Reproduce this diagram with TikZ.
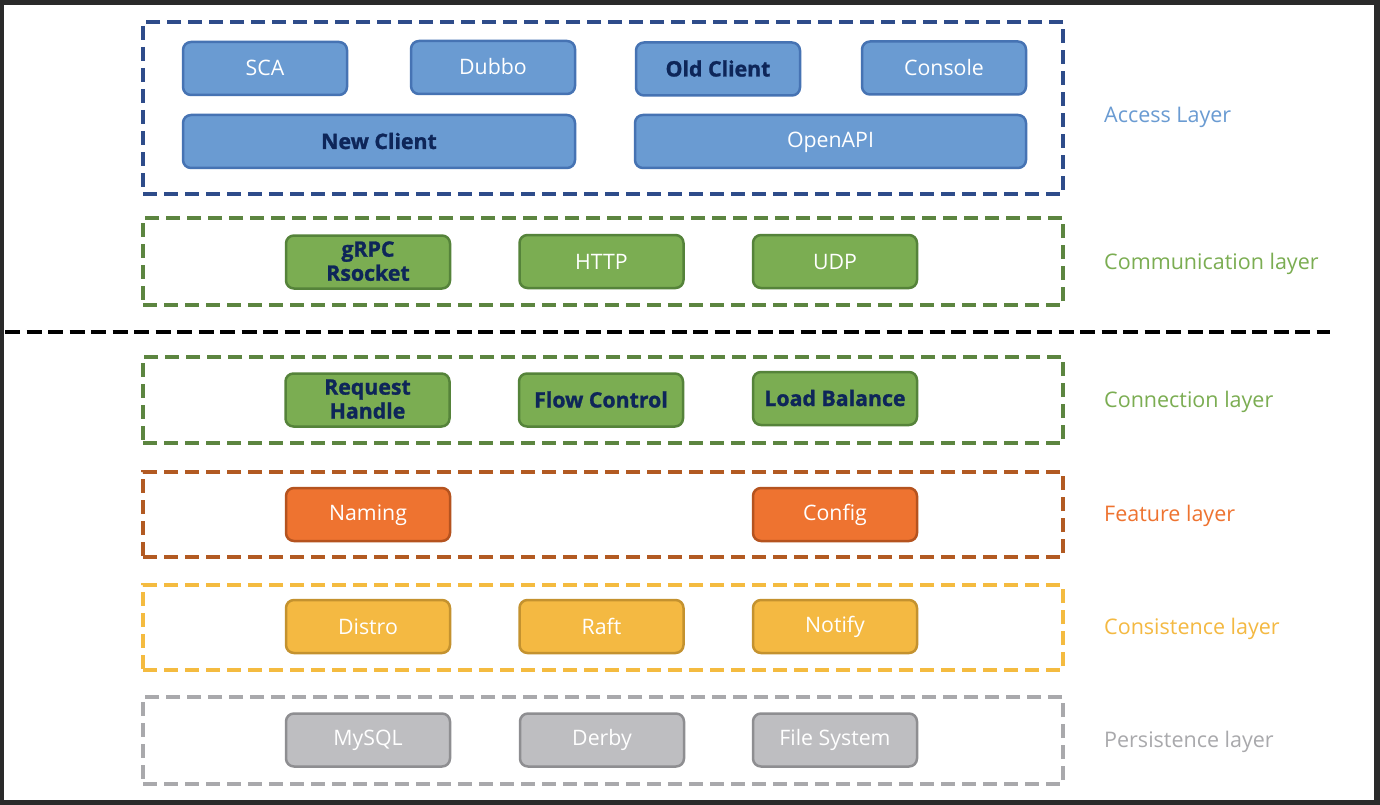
\documentclass[tikz,border=0pt]{standalone}
\usepackage{fontspec}
\setmainfont{Open Sans}
\newfontfamily\heavyfont{Open Sans}[FakeBold=1.2]
\newcommand\mytopst{\rule{0pt}{17pt}}
\newcommand\mybotst{\rule[-2pt]{0pt}{2pt}}
\begin{document}
\begin{tikzpicture}[x=1pt,y=-1pt,
  bx/.style={rounded corners=8pt, line width=2.5pt, minimum width=164pt, minimum height=53pt, inner sep=0pt, align=center, font=\fontsize{21.3}{24}\selectfont, execute at begin node=\mytopst, execute at end node=\mybotst},
  bold/.style={text=navytxt, font=\fontsize{21.3}{24}\selectfont\heavyfont\bfseries},
  bluebx/.style={bx, fill=bluefill, draw=blueedge, text=white},
  greenbx/.style={bx, fill=greenfill, draw=greenedge, text=white},
  orangebx/.style={bx, fill=orangefill, draw=orangeedge, text=white},
  yellowbx/.style={bx, fill=yellowfill, draw=yellowedge, text=white},
  graybx/.style={bx, fill=grayfill, draw=grayedge, text=white},
  layer/.style={line width=3.5pt, dash pattern=on 14pt off 7pt, minimum width=920pt, inner sep=0pt},
  lbl/.style={anchor=west, inner sep=0pt, font=\fontsize{21.5}{24}\selectfont, execute at begin node=\mytopst, execute at end node=\mybotst}
]
\definecolor{frame}{HTML}{2A2A2A}
\definecolor{bluefill}{HTML}{6A9BD2}
\definecolor{blueedge}{HTML}{4673B3}
\definecolor{blueouter}{HTML}{2E4C8A}
\definecolor{bluelbl}{HTML}{6A9BD2}
\definecolor{navytxt}{HTML}{0E2659}
\definecolor{greenfill}{HTML}{7BAD52}
\definecolor{greenedge}{HTML}{55833A}
\definecolor{greenouter}{HTML}{5C8540}
\definecolor{greenlbl}{HTML}{7BAD52}
\definecolor{orangefill}{HTML}{EE7330}
\definecolor{orangeedge}{HTML}{B5531F}
\definecolor{orangeouter}{HTML}{B25A22}
\definecolor{orangelbl}{HTML}{EE7330}
\definecolor{yellowfill}{HTML}{F4B942}
\definecolor{yellowedge}{HTML}{C4922F}
\definecolor{yellowouter}{HTML}{F4BB40}
\definecolor{yellowlbl}{HTML}{F4B942}
\definecolor{grayfill}{HTML}{BEBEC1}
\definecolor{grayedge}{HTML}{8E8E91}
\definecolor{grayouter}{HTML}{A9A9AC}
\definecolor{graylbl}{HTML}{A9A9AC}

% frame and background
\fill[frame] (0,0) rectangle (1380,805);
\fill[white] (4,5) rectangle (1374,800);
\useasboundingbox (0,0) rectangle (1380,805);

% layer containers
\node[layer, draw=blueouter, minimum height=172pt] (accessL) at (603,108) {};
\node[layer, draw=greenouter, minimum height=87pt] (commL) at (603,261.5) {};
\node[layer, draw=greenouter, minimum height=86pt] (connL) at (603,400) {};
\node[layer, draw=orangeouter, minimum height=85pt] (featL) at (603,514.5) {};
\node[layer, draw=yellowouter, minimum height=85pt] (consL) at (603,627.5) {};
\node[layer, draw=grayouter, minimum height=87pt] (persL) at (603,740.5) {};

% separator
\coordinate (sepA) at (5,332);
\coordinate (sepB) at (1330,332);
\draw[black, line width=4pt, dash pattern=on 15pt off 6.5pt] (sepA) -- (sepB);

% access layer
\node[bluebx] (sca) at (265,68.5) {SCA};
\node[bluebx] (dubbo) at (493,67.5) {Dubbo};
\node[bluebx, bold] (oldc) at (718,69) {Old Client};
\node[bluebx] (console) at (944,68) {Console};
\node[bluebx, bold, minimum width=392pt] (newc) at (379,141.5) {New Client};
\node[bluebx, minimum width=391pt] (openapi) at (830.5,141.5) {OpenAPI};

% communication layer
\node[greenbx, bold] (grpc) at (368,262) {gRPC\\Rsocket};
\node[greenbx] (http) at (601.5,261.5) {HTTP};
\node[greenbx] (udp) at (835,261.5) {UDP};

% connection layer
\node[greenbx, bold] (req) at (367.5,400) {Request\\Handle};
\node[greenbx, bold] (flow) at (601,400) {Flow Control};
\node[greenbx, bold] (lb) at (835,398.5) {Load Balance};

% feature layer
\node[orangebx] (naming) at (368,514.5) {Naming};
\node[orangebx] (config) at (835,514.5) {Config};

% consistence layer
\node[yellowbx] (distro) at (368,626.5) {Distro};
\node[yellowbx] (raft) at (601.5,626.5) {Raft};
\node[yellowbx] (notify) at (835,626.5) {Notify};

% persistence layer
\node[graybx] (mysql) at (368,740) {MySQL};
\node[graybx] (derby) at (602,740) {Derby};
\node[graybx] (fs) at (835,740) {File System};

% labels
\node[lbl, text=bluelbl] (tA) at (1104,117) {Access Layer};
\node[lbl, text=greenlbl] (tB) at (1104,264) {Communication layer};
\node[lbl, text=greenlbl] (tC) at (1104,402) {Connection layer};
\node[lbl, text=orangelbl] (tD) at (1104,516) {Feature layer};
\node[lbl, text=yellowlbl] (tE) at (1104,629) {Consistence layer};
\node[lbl, text=graylbl] (tF) at (1104,742) {Persistence layer};
\end{tikzpicture}
\end{document}
